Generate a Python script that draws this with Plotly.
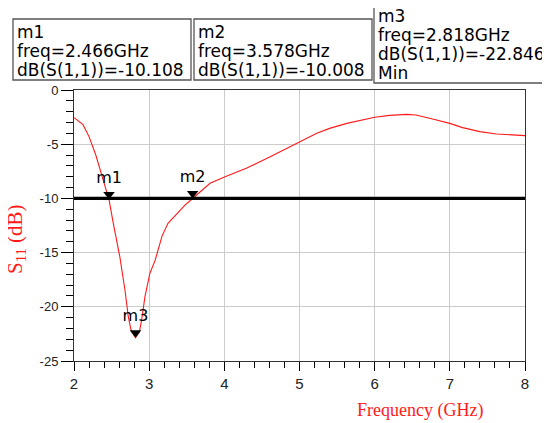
import plotly.graph_objects as go

# ---------------- data ----------------
freq_ghz = [2.0, 2.12, 2.2, 2.29, 2.38, 2.466, 2.523, 2.61, 2.678, 2.722, 2.76, 2.818,
            2.87, 2.90, 2.944, 3.01, 3.08, 3.17, 3.25, 3.37, 3.48, 3.578, 3.81, 4.01,
            4.30, 4.61, 5.0, 5.23, 5.40, 5.63, 6.0, 6.2, 6.42, 6.55, 6.77, 7.0, 7.17,
            7.4, 7.62, 7.84, 8.0]
s11_db = [-2.55, -3.2, -4.3, -6.0, -8.1, -10.108, -12.3, -15.4, -18.45, -20.9, -22.2, -22.846,
          -22.3, -21.2, -19.07, -16.9, -15.7, -13.5, -12.3, -11.4, -10.6, -10.008, -8.6, -8.0,
          -7.2, -6.15, -4.77, -4.0, -3.54, -3.08, -2.52, -2.34, -2.25, -2.3, -2.68, -3.08, -3.47,
          -3.84, -4.06, -4.15, -4.21]

threshold_db = -10
marker_names = ["m1", "m2", "m3"]
marker_freq = [2.466, 3.578, 2.818]
marker_db = [-10.108, -10.008, -22.846]
marker_extra = ["", "", "Min"]

x_range = [2, 8]
y_range = [-25, 0]
y_tickvals = [0, -5, -10, -15, -20, -25]
y_ticktext = ["0", "-5", "-10", "-15", "-20", "-25"]
x_tickvals = [2, 3, 4, 5, 6, 7, 8]
x_ticktext = ["2", "3", "4", "5", "6", "7", "8"]

# ---------------- layout geometry (pixels in the 550x423 window) ----------------
OFF = 8  # page body margin added by the browser
W, H = 550 - OFF, 423 - OFF
L, R, T, B = 74 - OFF, 525 - OFF, 90 - OFF, 361 - OFF
PW, PH = R - L, B - T


def px(p):
    return (p - OFF - L) / PW


def py(p):
    return (B - (p - OFF)) / PH


RED = "#ff1a1a"
BOXFONT = dict(family="DejaVu Sans", size=17, color="black")

fig = go.Figure()

# S11 curve
fig.add_trace(go.Scatter(x=freq_ghz, y=s11_db, mode="lines",
                         line=dict(color=RED, width=1.1), hoverinfo="skip"))

# -10 dB threshold line
fig.add_trace(go.Scatter(x=x_range, y=[threshold_db, threshold_db], mode="lines",
                         line=dict(color="black", width=3.2), hoverinfo="skip"))

# markers (triangle tip at the data point)
msize = 10
offset = (msize / 2) * (y_range[1] - y_range[0]) / PH
fig.add_trace(go.Scatter(
    x=marker_freq, y=[v + offset for v in marker_db], mode="markers+text",
    marker=dict(symbol="triangle-down", size=msize, color="black"),
    text=marker_names, textposition="top center",
    textfont=dict(family="DejaVu Sans", size=16, color="black"),
    hoverinfo="skip"))

# ---------------- marker readout boxes ----------------
boxes = [  # (left, right, top, bottom) in window px
    (13, 191, 19, 80),
    (194, 372, 19, 80),
    (374, 570, 4, 83),
]
shapes = []
annotations = []
for i, (bl, br, bt, bb) in enumerate(boxes):
    shapes.append(dict(type="rect", xref="paper", yref="paper",
                       x0=px(bl), x1=px(br), y0=py(bb), y1=py(bt),
                       line=dict(color="#555555", width=1.3), fillcolor="white",
                       layer="above"))
    lines = [marker_names[i],
             "freq=%.3fGHz" % marker_freq[i],
             "dB(S(1,1))=%.3f" % marker_db[i]]
    if marker_extra[i]:
        lines.append(marker_extra[i])
    n = len(lines)
    step = 19
    first_baseline = bb - 7 - step * (n - 1)
    for k, txt in enumerate(lines):
        base = first_baseline + k * step
        annotations.append(dict(xref="paper", yref="paper",
                                x=px(bl + 2), y=py(base - 3),
                                xanchor="left", yanchor="middle",
                                text=txt, showarrow=False, font=BOXFONT))

# axis titles
annotations.append(dict(xref="paper", yref="paper", x=px(420), y=py(410),
                        xanchor="center", yanchor="middle", showarrow=False,
                        text="Frequency (GHz)",
                        font=dict(family="Liberation Serif", size=18, color=RED)))
annotations.append(dict(xref="paper", yref="paper", x=px(16), y=py(239),
                        xanchor="center", yanchor="middle", showarrow=False,
                        textangle=-90, text="S<sub>11</sub> (dB)",
                        font=dict(family="Liberation Serif", size=21, color=RED)))

fig.update_layout(
    width=W, height=H,
    margin=dict(l=L, r=W - R, t=T, b=H - B, autoexpand=False),
    paper_bgcolor="white", plot_bgcolor="white",
    showlegend=False,
    shapes=shapes, annotations=annotations,
)

fig.update_xaxes(
    range=x_range, tickvals=x_tickvals, ticktext=x_ticktext,
    ticks="outside", ticklen=9, tickwidth=1, tickcolor="black",
    tickfont=dict(family="Liberation Sans", size=15, color="#222222"),
    showgrid=True, gridcolor="#cccccc", gridwidth=1,
    showline=True, linecolor="#333333", linewidth=1, mirror=True,
    zeroline=False,
    minor=dict(dtick=0.2, ticks="outside", ticklen=6, tickcolor="black", showgrid=False),
)
fig.update_yaxes(
    range=y_range, tickvals=y_tickvals, ticktext=y_ticktext,
    ticks="outside", ticklen=12, tickwidth=1, tickcolor="black",
    tickfont=dict(family="Liberation Sans", size=13, color="#222222"),
    showgrid=True, gridcolor="#cccccc", gridwidth=1,
    showline=True, linecolor="#333333", linewidth=1, mirror=True,
    zeroline=False,
    minor=dict(dtick=1, ticks="outside", ticklen=7, tickcolor="black", showgrid=False),
)

fig.write_html("out.html")
